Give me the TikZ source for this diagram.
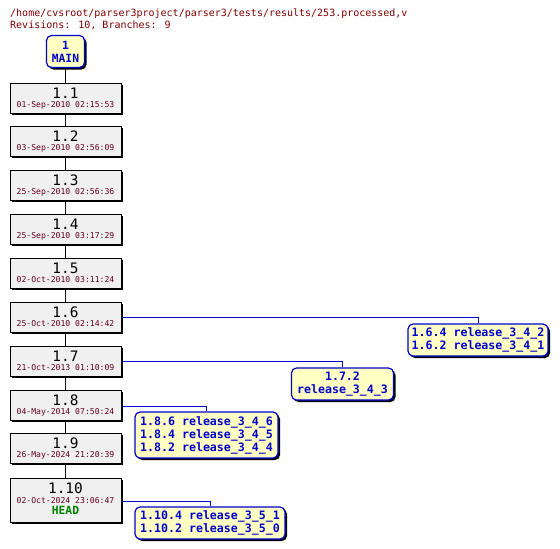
\documentclass[tikz,border=0pt]{standalone}
\usepackage{fontspec}
\setmainfont{DejaVu Sans Mono}
\usetikzlibrary{shadows}
\definecolor{hdrred}{HTML}{800000}
\definecolor{datered}{HTML}{600020}
\definecolor{tagblue}{HTML}{0000CC}
\definecolor{tagyellow}{HTML}{FFFFC4}
\definecolor{revgray}{HTML}{F0F0F0}
\definecolor{headgreen}{HTML}{008000}
\tikzset{
  x=1pt,y=-1pt,
  hdr/.style={anchor=base west, inner sep=0, text=hdrred, font=\fontsize{10}{12}\selectfont},
  revbox/.style={draw=black, line width=1pt, fill=revgray, minimum width=111pt, minimum height=30pt, inner sep=0,
    drop shadow={shadow xshift=2pt, shadow yshift=-2pt, fill=black, opacity=1}},
  revnum/.style={anchor=base, inner sep=0, font=\fontsize{14.4}{14}\selectfont},
  revdate/.style={anchor=base, inner sep=0, text=datered, font=\fontsize{8.1}{9}\selectfont},
  headtag/.style={anchor=base, inner sep=0, text=headgreen, font=\bfseries\fontsize{11.3}{12}\selectfont},
  tagbox/.style={draw=tagblue, line width=1.2pt, fill=tagyellow, rounded corners=5pt, align=center, inner sep=0,
    text=tagblue, font=\bfseries\fontsize{11.6}{13}\selectfont,
    drop shadow={shadow xshift=2pt, shadow yshift=-2pt, fill=black, opacity=1}},
  trunk/.style={draw=black, line width=1pt},
  branch/.style={draw=tagblue, line width=1pt},
}
\newcommand\revnode[4]{%
  \node[revbox] (#1) at (65.5,#2+15) {};
  \node[revnum] (#1n) at (65.5,#2+15) {#3};
  \node[revdate] (#1d) at (65.5,#2+24) {#4};
}
\begin{document}
\begin{tikzpicture}
\useasboundingbox (0,0) rectangle (560,549);
\node[hdr] (h1) at (10,16) {/home/cvsroot/parser3project/parser3/tests/results/253.processed,v};
\node[hdr] (h2) at (10,28) {Revisions: 10, Branches: 9};
\node[tagbox, minimum width=38pt, minimum height=32pt, font=\bfseries\fontsize{11.3}{13}\selectfont] (main) at (65.5,51.5) {1\\MAIN};
\revnode{r11}{83}{1.1}{01-Sep-2010 02:15:53}
\revnode{r12}{126}{1.2}{03-Sep-2010 02:56:09}
\revnode{r13}{170}{1.3}{25-Sep-2010 02:56:36}
\revnode{r14}{214}{1.4}{25-Sep-2010 03:17:29}
\revnode{r15}{258}{1.5}{02-Oct-2010 03:11:24}
\revnode{r16}{302}{1.6}{25-Oct-2010 02:14:42}
\revnode{r17}{346}{1.7}{21-Oct-2013 01:10:09}
\revnode{r18}{390}{1.8}{04-May-2014 07:50:24}
\revnode{r19}{433}{1.9}{26-May-2024 21:20:39}
\node[revbox, minimum height=44pt] (r110) at (65.5,500) {};
\node[revnum] (r110n) at (65.5,493) {1.10};
\node[revdate] (r110d) at (65.5,503) {02-Oct-2024 23:06:47};
\node[headtag] (r110h) at (65.5,514.5) {HEAD};
% trunk
\draw[trunk] (main.south) -- (r11.north);
\draw[trunk] (r11.south) -- (r12.north);
\draw[trunk] (r12.south) -- (r13.north);
\draw[trunk] (r13.south) -- (r14.north);
\draw[trunk] (r14.south) -- (r15.north);
\draw[trunk] (r15.south) -- (r16.north);
\draw[trunk] (r16.south) -- (r17.north);
\draw[trunk] (r17.south) -- (r18.north);
\draw[trunk] (r18.south) -- (r19.north);
\draw[trunk] (r19.south) -- (r110.north);
% tags
\node[tagbox, minimum width=140pt, minimum height=32pt] (t16) at (478,340) {1.6.4 release\_3\_4\_2\\1.6.2 release\_3\_4\_1};
\node[tagbox, minimum width=102pt, minimum height=32pt] (t17) at (342.5,384) {1.7.2\\release\_3\_4\_3};
\node[tagbox, minimum width=143pt, minimum height=46pt] (t18) at (206.5,435) {1.8.6 release\_3\_4\_6\\1.8.4 release\_3\_4\_5\\1.8.2 release\_3\_4\_4};
\node[tagbox, minimum width=150pt, minimum height=32pt] (t110) at (210,523) {1.10.4 release\_3\_5\_1\\1.10.2 release\_3\_5\_0};
\draw[branch] (r16.east) -| (t16.north);
\draw[branch] (r17.east) -| (t17.north);
\draw[branch] ([yshift=-1pt]r18.east) -| (t18.north);
\draw[branch] ([yshift=-1pt]r110.east) -| (t110.north);
\end{tikzpicture}
\end{document}
